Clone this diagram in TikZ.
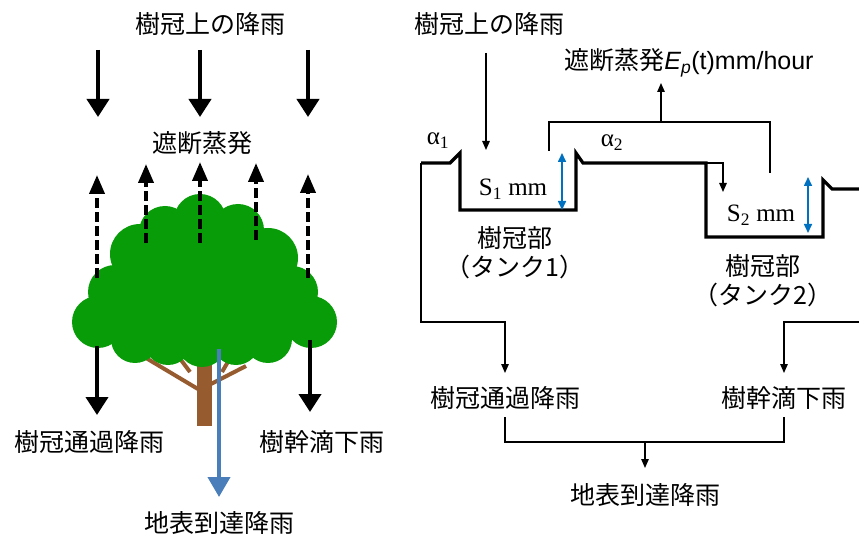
\documentclass[tikz,border=0pt]{standalone}
\usepackage{fontspec}
\setmainfont{Liberation Serif}
\newfontfamily\jpfont{Noto Sans CJK JP}
\newfontfamily\arialfont{Liberation Sans}
\usepackage{xcolor}
\usetikzlibrary{positioning,arrows.meta}

\definecolor{leafgreen}{RGB}{8,156,8}
\definecolor{barkbrown}{RGB}{150,92,48}
\definecolor{dropblue}{RGB}{74,126,187}
\definecolor{gaugeblue}{RGB}{0,112,192}

\begin{document}
\begin{tikzpicture}[
    x=1pt, y=-1pt,
    every node/.style={font=\fontsize{25}{30}\selectfont\jpfont, inner sep=0pt},
    latin/.style={font=\fontsize{25}{30}\selectfont\rmfamily},
    rain/.style={line width=4pt, -{Triangle[width=22pt,length=18pt]}},
    evap/.style={line width=3.8pt, dash pattern=on 10pt off 4pt, -{Triangle[width=15pt,length=19pt]}},
    drip/.style={dropblue, line width=4pt, -{Triangle[width=22pt,length=20pt]}},
    link/.style={line width=1.3pt},
    flow/.style={link, -{Triangle[width=7.5pt,length=9pt]}},
    wall/.style={line width=3.2pt},
    gauge/.style={gaugeblue, line width=1.6pt, {Triangle[width=8pt,length=9pt]}-{Triangle[width=8pt,length=9pt]}}
]
\clip (0,0) rectangle (859,534);

\node (rainL) at (210,24) {樹冠上の降雨};
\node (evapL) at (202,143) {遮断蒸発};
\node (thruL) at (89,442) {樹冠通過降雨};
\node (stemL) at (322,442) {樹幹滴下雨};
\node (gndL) at (219,523) {地表到達降雨};

\foreach \bx/\by/\ex/\ey in {203/392/146/358, 190/372/181/360, 211/384/246/366, 222/372/229/360}
    \draw[barkbrown, line width=4pt] (\bx,\by) -- (\ex,\ey);
\fill[barkbrown] (197,352) rectangle (212,426);
\fill[leafgreen] (204,288) ellipse[x radius=95, y radius=65];
\foreach \cx/\cy/\r in {200/220/26, 165/232/26, 238/230/26, 140/254/30, 268/258/30,
                        115/292/27, 292/292/26, 98/322/26, 311/322/26,
                        135/339/24, 168/341/24, 202/342/25, 236/341/24, 268/339/24}
    \fill[leafgreen] (\cx,\cy) circle[radius=\r];

\foreach \ax/\ay/\tip in {97/278/175, 146/243/164, 200/243/162, 256/240/163, 308/278/174}
    \draw[evap] (\ax,\ay) -- (\ax,\tip);
\foreach \ax in {98,200,308}
    \draw[rain] (\ax,50) -- (\ax,117);
\draw[rain] (97,346) -- (97,415);
\draw[rain] (310,340) -- (310,412);
\draw[drip] (219,349) -- (219,497);

\node (rainR) at (489,24) {樹冠上の降雨};
\node[anchor=base] (evapR) at (689,70) {遮断蒸発{\arialfont\itshape E}\textsubscript{\arialfont\itshape p}{\arialfont (t)mm/hour}};
\node[latin, anchor=base] (alpha1) at (438,145) {α\textsubscript{1}};
\node[latin, anchor=base] (alpha2) at (612,147) {α\textsubscript{2}};
\node[latin, anchor=base] (s1) at (513,196) {S\textsubscript{1} mm};
\node[latin, anchor=base] (s2) at (761,222) {S\textsubscript{2} mm};
\node (tank1) at (515,238) {樹冠部};
\node[below=5pt of tank1] (tank1n) {（タンク1）};
\node (tank2) at (763,266) {樹冠部};
\node[below=5pt of tank2] (tank2n) {（タンク2）};
\node (thruR) at (505,398) {樹冠通過降雨};
\node (stemR) at (784,398) {樹幹滴下雨};
\node (gndR) at (645,495) {地表到達降雨};

\draw[wall] (421,163) -- (450,163) -- (460,153) -- (460,210) -- (576,210) -- (576,153)
    -- (583,163) -- (706,163) -- (706,237) -- (823,237) -- (823,180) -- (832,189) -- (870,189);

\coordinate (drop1) at (486,53);
\coordinate (fill1) at (486,150);
\coordinate (spill1) at (706,163);
\coordinate (fill2) at (723,192);
\coordinate (over1) at (421,163);
\coordinate (over2) at (870,322);
\coordinate (thruIn) at (505,373);
\coordinate (stemIn) at (784,373);
\coordinate (thruOut) at (505,417);
\coordinate (stemOut) at (784,417);
\coordinate (ev1) at (549,151);
\coordinate (ev2) at (770,173);
\coordinate (evUp) at (661,83);

\draw[flow] (drop1) -- (fill1);
\draw[flow] (spill1) -| (fill2);
\draw[link] (ev1) |- (661,122) -| (ev2);
\draw[flow] (661,122) -- (evUp);
\draw[gauge] (562,153) -- (562,210);
\draw[gauge] (808,177) -- (808,233);

\draw[flow] (over1) -- ++(0,159) -| (thruIn);
\draw[flow] (over2) -| (stemIn);
\draw[link] (thruOut) -- ++(0,25) -| (stemOut);
\draw[flow] (645,442) -- (645,468);

\end{tikzpicture}
\end{document}
